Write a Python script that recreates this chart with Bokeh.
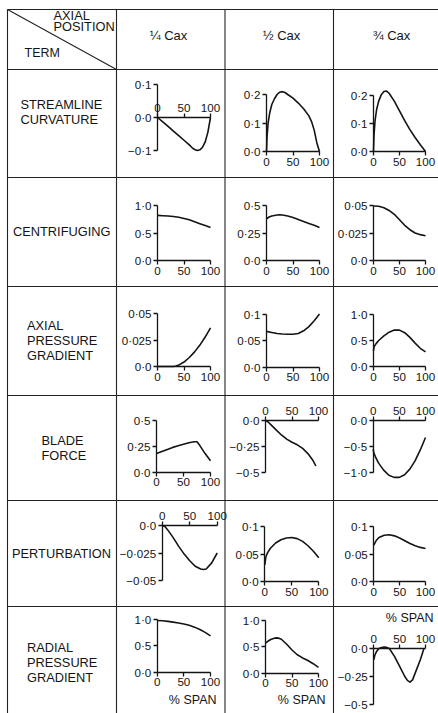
from bokeh.plotting import figure
from bokeh.models import Range1d, LinearAxis, FixedTicker, Label
from bokeh.embed import file_html
from bokeh.resources import INLINE
from bokeh.core.properties import value

# ---------------- data ----------------
terms = ["STREAMLINE\nCURVATURE", "CENTRIFUGING", "AXIAL\nPRESSURE\nGRADIENT",
         "BLADE\nFORCE", "PERTURBATION", "RADIAL\nPRESSURE\nGRADIENT"]
positions = ["¼ Cax", "½ Cax", "¾ Cax"]
span_ticks = [0, 50, 100]
span_label = "% SPAN"

# streamline curvature
sc1_x = [0, 10, 20, 30, 40, 50, 60, 65, 70, 75, 80, 85, 90, 95, 100]
sc1_y = [0, -0.013, -0.027, -0.041, -0.055, -0.069, -0.083, -0.091, -0.097, -0.1, -0.098, -0.09, -0.074, -0.045, 0.0]
sc2_x = [0, 1, 3, 6, 10, 15, 20, 25, 30, 35, 40, 50, 60, 70, 80, 85, 90, 95, 100]
sc2_y = [0, 0.05, 0.1, 0.135, 0.165, 0.185, 0.2, 0.208, 0.21, 0.207, 0.2, 0.187, 0.17, 0.15, 0.125, 0.105, 0.075, 0.03, 0.0]
sc3_x = [0, 1, 3, 6, 10, 15, 20, 25, 30, 40, 50, 60, 70, 80, 90, 100]
sc3_y = [0, 0.06, 0.11, 0.15, 0.18, 0.203, 0.214, 0.216, 0.208, 0.18, 0.145, 0.11, 0.078, 0.05, 0.024, 0.0]
sc_ticks = [[-0.1, 0.0, 0.1], [0.0, 0.1, 0.2], [0.0, 0.1, 0.2]]

# centrifuging
cf1_x = [0, 10, 20, 30, 40, 50, 60, 70, 80, 90, 100]
cf1_y = [0.82, 0.815, 0.81, 0.8, 0.785, 0.765, 0.74, 0.705, 0.67, 0.635, 0.6]
cf2_x = [0, 5, 10, 20, 25, 30, 40, 50, 60, 70, 80, 90, 100]
cf2_y = [0.38, 0.395, 0.405, 0.413, 0.415, 0.413, 0.405, 0.39, 0.373, 0.355, 0.337, 0.32, 0.3]
cf3_x = [0, 10, 20, 30, 40, 50, 60, 70, 80, 90, 100]
cf3_y = [0.0495, 0.0493, 0.048, 0.0455, 0.042, 0.037, 0.032, 0.028, 0.025, 0.0235, 0.0225]
cf_ticks = [[0.0, 0.5, 1.0], [0.0, 0.25, 0.5], [0.0, 0.025, 0.05]]

# axial pressure gradient
ap1_x = [0, 10, 20, 30, 35, 40, 50, 60, 70, 80, 90, 100]
ap1_y = [0, 0, 0, 0, 0.0004, 0.0013, 0.0042, 0.0085, 0.0138, 0.0202, 0.0278, 0.0365]
ap2_x = [0, 10, 20, 30, 40, 50, 60, 70, 80, 90, 100]
ap2_y = [0.068, 0.066, 0.064, 0.063, 0.0625, 0.0625, 0.064, 0.069, 0.077, 0.088, 0.101]
ap3_x = [0, 1, 5, 10, 20, 30, 40, 50, 60, 70, 80, 90, 100]
ap3_y = [0.3, 0.38, 0.44, 0.5, 0.59, 0.66, 0.7, 0.7, 0.65, 0.56, 0.45, 0.35, 0.28]
ap_ticks = [[0.0, 0.025, 0.05], [0.0, 0.05, 0.1], [0.0, 0.5, 1.0]]

# blade force
bf1_x = [0, 10, 20, 30, 40, 50, 60, 70, 75, 80, 90, 100]
bf1_y = [0.18, 0.2, 0.22, 0.24, 0.255, 0.27, 0.285, 0.295, 0.295, 0.26, 0.18, 0.11]
bf2_x = [0, 5, 10, 20, 30, 40, 50, 60, 70, 80, 90, 95]
bf2_y = [0, -0.015, -0.04, -0.09, -0.14, -0.18, -0.21, -0.235, -0.27, -0.32, -0.39, -0.44]
bf3_x = [0, 1, 5, 10, 20, 30, 40, 50, 60, 70, 80, 90, 100]
bf3_y = [-0.55, -0.62, -0.72, -0.82, -0.96, -1.06, -1.1, -1.1, -1.05, -0.94, -0.78, -0.57, -0.33]
bf_ticks = [[0.0, 0.25, 0.5], [-0.5, -0.25, 0.0], [-1.0, -0.5, 0.0]]

# perturbation
pt1_x = [0, 5, 10, 20, 30, 40, 50, 60, 70, 75, 80, 90, 100]
pt1_y = [0, -0.001, -0.004, -0.011, -0.019, -0.026, -0.032, -0.037, -0.0395, -0.04, -0.0395, -0.034, -0.025]
pt2_x = [0, 2, 5, 10, 20, 30, 40, 50, 60, 70, 80, 90, 100]
pt2_y = [0.03, 0.045, 0.052, 0.06, 0.07, 0.076, 0.079, 0.08, 0.078, 0.073, 0.065, 0.055, 0.043]
pt3_x = [0, 5, 10, 20, 30, 40, 50, 60, 70, 80, 90, 100]
pt3_y = [0.066, 0.075, 0.08, 0.084, 0.085, 0.083, 0.079, 0.074, 0.069, 0.065, 0.062, 0.06]
pt_ticks = [[-0.05, -0.025, 0.0], [0.0, 0.05, 0.1], [0.0, 0.05, 0.1]]

# radial pressure gradient
rp1_x = [0, 10, 20, 30, 40, 50, 60, 70, 80, 90, 100]
rp1_y = [0.98, 0.975, 0.965, 0.95, 0.935, 0.915, 0.89, 0.855, 0.81, 0.755, 0.69]
rp2_x = [0, 5, 10, 15, 20, 25, 30, 40, 50, 60, 70, 80, 90, 100]
rp2_y = [0.57, 0.61, 0.64, 0.66, 0.67, 0.665, 0.645, 0.55, 0.44, 0.35, 0.29, 0.24, 0.18, 0.11]
rp3_x = [0, 2, 5, 10, 15, 20, 25, 30, 40, 50, 60, 65, 70, 75, 80, 90, 97]
rp3_y = [-0.1, -0.06, -0.03, 0.0, 0.008, 0.012, 0.01, 0.0, -0.07, -0.16, -0.25, -0.285, -0.3, -0.28, -0.22, -0.1, 0.0]
rp_ticks = [[0.0, 0.5, 1.0], [0.0, 0.5, 1.0], [-0.5, -0.25, 0.0]]

series = [
    [(sc1_x, sc1_y), (sc2_x, sc2_y), (sc3_x, sc3_y)],
    [(cf1_x, cf1_y), (cf2_x, cf2_y), (cf3_x, cf3_y)],
    [(ap1_x, ap1_y), (ap2_x, ap2_y), (ap3_x, ap3_y)],
    [(bf1_x, bf1_y), (bf2_x, bf2_y), (bf3_x, bf3_y)],
    [(pt1_x, pt1_y), (pt2_x, pt2_y), (pt3_x, pt3_y)],
    [(rp1_x, rp1_y), (rp2_x, rp2_y), (rp3_x, rp3_y)],
]
ticks = [sc_ticks, cf_ticks, ap_ticks, bf_ticks, pt_ticks, rp_ticks]

# ---------------- layout (pixels) ----------------
W, H = 438, 713
COL_X = [7, 116, 224.5, 333]
ROW_Y = [9, 69, 177, 286, 395, 500, 606]
# (x of 0 %, x of 100 %, y of top tick, y of bottom tick)
BOX = [
    [(157, 210, 84, 150), (266, 319, 94, 151), (373, 425, 95, 151)],
    [(157, 210, 205, 260), (266, 319, 205, 260), (373, 425, 205, 260)],
    [(157, 210, 313, 366), (266, 319, 314, 366.7), (373, 425, 314, 366)],
    [(156, 210, 420, 471.7), (265, 318, 420, 471.7), (372.7, 425, 420, 471.7)],
    [(161.7, 216.7, 525, 580), (264.3, 318.3, 526, 581), (373.3, 425, 526, 581)],
    [(156.7, 210, 619, 671.7), (265, 318, 620, 672.7), (373.3, 425, 648, 704)],
]
ABOVE = {(0, 0), (3, 1), (3, 2), (4, 0), (5, 2)}
LABEL_POS = [(20, 111), (12.5, 230.5), (26.5, 340), (41, 447.5), (11.5, 553), (26.5, 662)]
HEAD_X = [168, 281, 391]
SPAN_OFF = [(6, -28), (7, -27), (8, 31)]

INK = "#141414"
FONT = "Liberation Sans"

p = figure(width=W, height=H, output_backend="svg", toolbar_location=None,
           x_axis_type=None, y_axis_type=None,
           x_range=Range1d(0, W), y_range=Range1d(H, 0),
           min_border=0, outline_line_color=None,
           background_fill_color="white", border_fill_color="white")
p.grid.visible = False

# table rules
sx0, sy0, sx1, sy1 = [], [], [], []
for y in ROW_Y:
    sx0.append(COL_X[0]); sy0.append(y); sx1.append(W); sy1.append(y)
for x in COL_X:
    sx0.append(x); sy0.append(ROW_Y[0]); sx1.append(x); sy1.append(H)
sx0.append(COL_X[0]); sy0.append(ROW_Y[0]); sx1.append(COL_X[1]); sy1.append(ROW_Y[1])
p.segment(sx0, sy0, sx1, sy1, line_color="#222222", line_width=1.1)

# header texts
p.text([53, 53], [15, 25.5], text=["AXIAL", "POSITION"], text_font=value(FONT),
       text_font_size="12.8px", text_align="left", text_baseline="middle", text_color=INK)
p.text([24], [52], text=["TERM"], text_font=value(FONT), text_font_size="12.5px",
       text_align="left", text_baseline="middle", text_color=INK)
p.text(HEAD_X, [35] * 3, text=positions, text_font=value(FONT), text_font_size="13px",
       text_align="center", text_baseline="middle", text_color=INK)

# row labels
p.text([lp[0] for lp in LABEL_POS], [lp[1] for lp in LABEL_POS], text=terms,
       text_font=value(FONT), text_font_size="12.8px", text_align="left",
       text_baseline="middle", text_line_height=1.0, text_color=INK)


def fmt(v):
    return f"{v}".replace("-", "\u2212").replace(".", "\u00b7")


for r in range(6):
    for c in range(3):
        xs, ys = series[r][c]
        yt = ticks[r][c]
        px0, px1, pyt, pyb = BOX[r][c]
        vmin, vmax = min(yt), max(yt)
        kx = 100.0 / (px1 - px0)
        ky = (vmax - vmin) / (pyb - pyt)
        xn, yn = f"x{r}{c}", f"y{r}{c}"
        p.extra_x_ranges[xn] = Range1d(-px0 * kx, (W - px0) * kx)
        p.extra_y_ranges[yn] = Range1d(vmin - (H - pyb) * ky, vmax + pyt * ky)

        p.line(xs, ys, x_range_name=xn, y_range_name=yn, line_color=INK,
               line_width=1.6, line_join="round")

        common = dict(x_range_name=xn, y_range_name=yn, fixed_location=0,
                      minor_tick_line_color=None, major_tick_in=0, major_tick_out=4,
                      major_label_standoff=2, axis_line_color=INK, axis_line_width=1.3,
                      major_tick_line_color=INK, major_tick_line_width=1.3,
                      major_label_text_font=FONT, major_label_text_font_size="11.6px",
                      major_label_text_color=INK)
        xax = LinearAxis(bounds=(0, 100), ticker=FixedTicker(ticks=span_ticks), **common)
        p.add_layout(xax, "above" if (r, c) in ABOVE else "below")
        yax = LinearAxis(bounds=(vmin, vmax), ticker=FixedTicker(ticks=yt),
                         major_label_overrides={t: fmt(t) for t in yt}, **common)
        p.add_layout(yax, "left")

        if r == 5:
            ox, oy = SPAN_OFF[c]
            p.add_layout(Label(x=100, y=0, x_range_name=xn, y_range_name=yn,
                               text=span_label, text_align="right", text_baseline="middle",
                               x_offset=ox, y_offset=oy, text_font=FONT,
                               text_font_size="12.5px", text_color=INK))

open("out.html", "w").write(file_html(p, INLINE))
